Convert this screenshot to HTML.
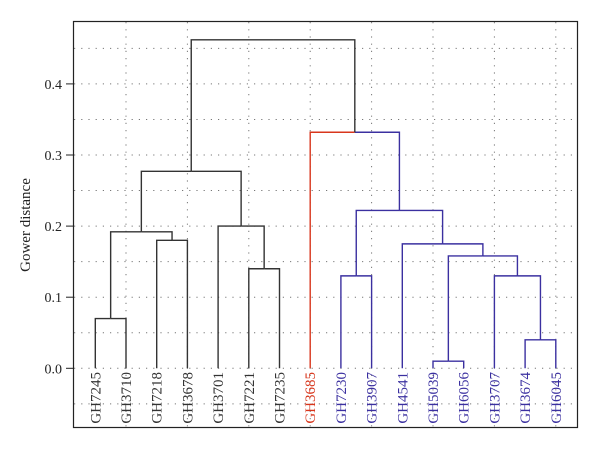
<!DOCTYPE html>
<html><head><meta charset="utf-8"><style>
body{margin:0;background:#fff}
svg{display:block;font-family:"Liberation Serif",serif}
</style></head><body>
<svg id="chart" width="600" height="450">
<rect x="73.5" y="21.5" width="504" height="406" fill="none" stroke="#222" stroke-width="1.2"/>
<g id="grid"></g><g id="yaxis"></g><g id="links"></g><g id="labels"></g>
<text transform="translate(30,225) rotate(-90)" text-anchor="middle" font-size="15" fill="#222">Gower distance</text>
</svg>
<script>
const leaves=["GH7245","GH3710","GH7218","GH3678","GH3701","GH7221","GH7235","GH3685","GH7230","GH3907","GH4541","GH5039","GH6056","GH3707","GH3674","GH6045"];
const leafColors=["k","k","k","k","k","k","k","r","b","b","b","b","b","b","b","b"];
// merges: [left node, right node, height, color]; nodes: leaf index or "m"+merge index
const mergeLeft=[0,2,"m0",5,4,"m2",8,11,14,13,"m7",10,"m6",7,"m5"];
const mergeRight=[1,3,"m1",6,"m3","m4",9,12,15,"m8","m9","m10","m11","m12","m13"];
const mergeHeights=[0.07,0.18,0.192,0.14,0.2,0.277,0.13,0.01,0.04,0.13,0.158,0.175,0.222,0.332,0.462];
const mergeColors=["k","k","k","k","k","k","b","b","b","b","b","b","b","b","k"];
const yTicks=[0.0,0.1,0.2,0.3,0.4];
const gridY=[-0.05,0,0.05,0.1,0.15,0.2,0.25,0.3,0.35,0.4,0.45];
const C={k:"#333",r:"#d8361c",b:"#3b30a0"};
const xS=i=>95.3+i*30.7, yS=v=>368.3-v*711;
const NS="http://www.w3.org/2000/svg";
function mk(t,a,p){const e=document.createElementNS(NS,t);for(const k in a)e.setAttribute(k,a[k]);p.appendChild(e);return e;}
const grid=document.getElementById('grid');
gridY.forEach(v=>{const l=mk('line',{x1:74,x2:577,y1:yS(v),y2:yS(v),stroke:"#777","stroke-width":1,"stroke-dasharray":"1.2 6"},grid);

});
leaves.forEach((n,i)=>{if(i%2==1){const l=mk('line',{x1:xS(i),x2:xS(i),y1:22,y2:427,stroke:"#777","stroke-width":1,"stroke-dasharray":"1.2 6"},grid);

}});
const ya=document.getElementById('yaxis');
yTicks.forEach(v=>{const l=mk('line',{x1:66,x2:74,y1:yS(v),y2:yS(v),stroke:"#222"},ya);


const t=mk('text',{x:62,y:yS(v)+5,"text-anchor":"end","font-size":14,fill:"#222"},ya);


t.textContent=v.toFixed(1);});
const pos=[];
function nx(n){return typeof n==="number"?xS(n):pos[+n.slice(1)].x;}
function ny(n){return typeof n==="number"?0:pos[+n.slice(1)].h;}
const lg=document.getElementById('links');
mergeHeights.forEach((h,i)=>{const a=mergeLeft[i],b=mergeRight[i];
const xa=nx(a),xb=nx(b);
pos.push({x:(xa+xb)/2,h:h});
const colA=(i===13)?C.r:C[mergeColors[i]];
const colB=C[mergeColors[i]];
const p1=mk('polyline',{points:`${xa},${yS(ny(a))} ${xa},${yS(h)} ${(xa+xb)/2},${yS(h)}`,fill:"none",stroke:colA,"stroke-width":1.4},lg);


const p2=mk('polyline',{points:`${(xa+xb)/2},${yS(h)} ${xb},${yS(h)} ${xb},${yS(ny(b))}`,fill:"none",stroke:colB,"stroke-width":1.4},lg);

});
const lb=document.getElementById('labels');
leaves.forEach((n,i)=>{const t=mk('text',{transform:`translate(${xS(i)+5},372) rotate(-90)`,"text-anchor":"end","font-size":15,fill:C[leafColors[i]]},lb);


t.textContent=n;});
</script>
</body></html>
